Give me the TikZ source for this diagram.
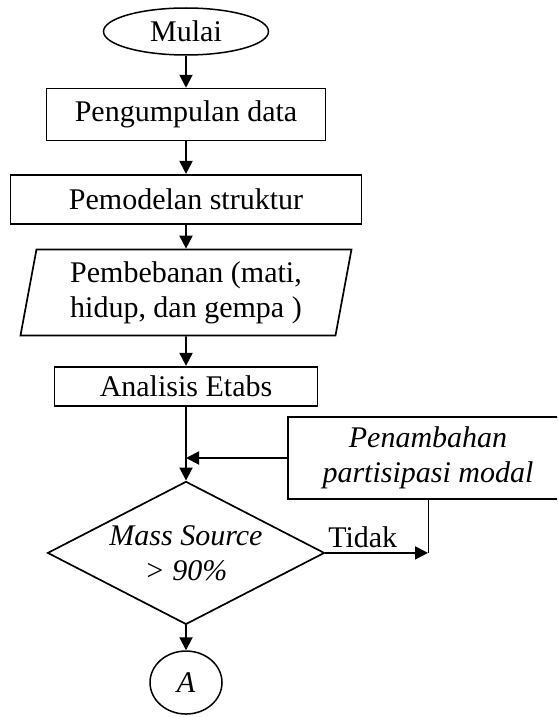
\documentclass[tikz,border=0pt]{standalone}
\usepackage{fontspec}
\setmainfont{Liberation Serif}
\usetikzlibrary{arrows.meta, positioning, shapes.geometric}
\newcommand{\fsz}{\fontsize{30}{35}\selectfont}
\tikzset{
  term/.style={ellipse, draw, line width=1.5pt, minimum width=165pt,
    minimum height=47pt, inner sep=0pt, font=\fsz},
  sbox/.style={rectangle, draw, line width=1.7pt, align=center,
    inner sep=0pt, font=\fsz},
  ibox/.style={trapezium, trapezium left angle=75.6, trapezium right angle=104.4,
    trapezium stretches body, draw, line width=1.7pt, align=center,
    minimum width=331pt, minimum height=86pt, inner sep=0pt, font=\fsz},
  dbox/.style={diamond, draw, line width=1.7pt, aspect=1.94, align=center,
    minimum width=277pt, minimum height=143pt, inner sep=0pt, font=\fsz\itshape},
  cbox/.style={ellipse, draw, line width=1.5pt, minimum width=72pt,
    minimum height=63pt, inner sep=0pt, font=\fsz\itshape},
  flow/.style={-{Triangle[length=13pt, width=13pt]}, line width=1.9pt},
  thin/.style={line width=0.9pt},
}
\begin{document}
\begin{tikzpicture}[x=1pt, y=1pt]
    \useasboundingbox (0,0) rectangle (557,-717);
    \clip (0,0) rectangle (557,-717);
    \node[term] (m) at (186,-31.5) {Mulai};
    \node[sbox, minimum width=279pt, minimum height=52pt, below=32pt of m] (pd) {Pengumpulan data};
    \node[sbox, minimum width=351pt, minimum height=49pt, below=32.5pt of pd] (ps) {Pemodelan struktur};
    \node[ibox, below=24pt of ps] (pb) {Pembebanan (mati,\\hidup, dan gempa )};
    \node[sbox, minimum width=263pt, minimum height=39pt, below=29.5pt of pb] (ae) {Analisis Etabs};
    \node[dbox, below=74pt of ae] (ms) {Mass Source\\> 90\%};
    \node[cbox, below=25pt of ms] (a) {A};
    \node[sbox, line width=1.3pt, font=\fsz\itshape, minimum width=280pt,
      minimum height=82pt] (pm) at (428,-458) {Penambahan\\partisipasi modal};
    \draw[flow] (m) -- (pd); \draw[flow] (pd) -- (ps); \draw[flow] (ps) -- (pb); \draw[flow] (pb) -- (ae);
    \draw[flow] (ae) -- (ms); \draw[flow] (ms) -- (a);
    \draw[flow] (pm.west) -- (pm.west -| ae.south);
    \draw[flow] (ms.east) -- node[pos=0, anchor=south west, inner xsep=2pt, inner ysep=4pt, font=\fsz] (td) {Tidak} (ms.east -| pm.south);
    \draw[thin] (pm.south) -- (ms.east -| pm.south);
  \end{tikzpicture}
\end{document}
